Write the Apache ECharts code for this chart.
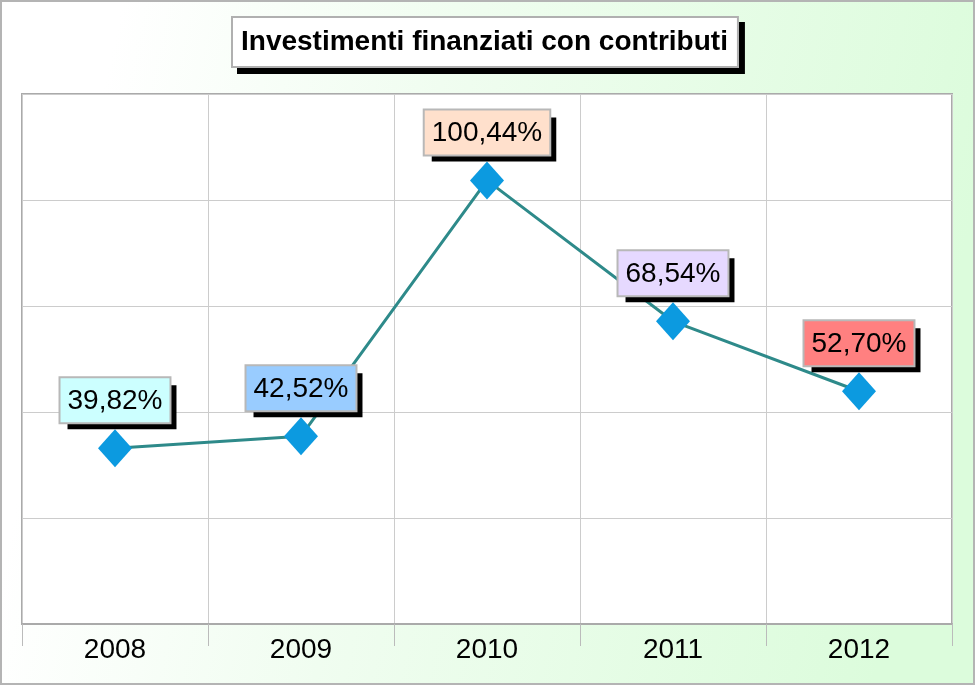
<!DOCTYPE html>
<html>
<head>
<meta charset="utf-8">
<script src="https://cdn.jsdelivr.net/npm/echarts@6/dist/echarts.min.js"></script>
<style>
html,body{margin:0;padding:0;}
#c{width:975px;height:685px;}
</style>
</head>
<body>
<div id="c"></div>
<script>
var titleText = 'Investimenti finanziati con contributi';
var categories = ['2008', '2009', '2010', '2011', '2012'];
var values = [39.82, 42.52, 100.44, 68.54, 52.70];
var labelColors = ['#ccffff', '#99ccff', '#ffe0cc', '#e6d9ff', '#ff8080'];
var yMin = 0, yMax = 120, yInterval = 24;

function fmt(v) { return v.toFixed(2).replace('.', ',') + '%'; }

var FONT = 'Liberation Sans, Arial, sans-serif';
var chart = echarts.init(document.getElementById('c'), null, {renderer: 'canvas'});
var data = values.map(function (v, i) {
  return {
    value: v,
    label: {
      backgroundColor: labelColors[i],
      rich: {
        b: {
          fontFamily: FONT, fontSize: 28, color: '#000000',
          backgroundColor: labelColors[i],
          borderColor: '#b8b8b8', borderWidth: 2,
          padding: [9, 7, 7, 7]
        }
      }
    }
  };
});
chart.setOption({
  animation: false,
  backgroundColor: {
    type: 'linear', x: 0, y: 0, x2: 1, y2: 0.3,
    colorStops: [
      {offset: 0, color: '#ffffff'},
      {offset: 0.12, color: '#ffffff'},
      {offset: 0.45, color: '#f0fdf0'},
      {offset: 1, color: '#dcfcdc'}
    ]
  },
  title: {
    text: '{t|' + titleText + '}',
    left: 233, top: 26,
    padding: 0,
    backgroundColor: '#ffffff',
    borderWidth: 0,
    shadowColor: '#000000',
    shadowBlur: 0,
    shadowOffsetX: 6,
    shadowOffsetY: 6,
    textStyle: {
      rich: {
        t: {
          fontFamily: FONT,
          fontWeight: 'bold',
          fontSize: 28,
          color: '#000000',
          lineHeight: 32,
          backgroundColor: '#ffffff',
          borderColor: '#b0b0b0',
          borderWidth: 2,
          padding: [10, 9, 10, 8]
        }
      }
    }
  },
  graphic: [{
    type: 'rect',
    shape: {x: 1, y: 1, width: 973, height: 683},
    style: {fill: 'none', stroke: '#b4b4b4', lineWidth: 2},
    silent: true, z: 100
  }],
  grid: {
    left: 22, top: 94, right: 23, bottom: 61,
    show: true,
    backgroundColor: '#ffffff',
    borderColor: '#aaaaaa',
    borderWidth: 2
  },
  xAxis: {
    type: 'category',
    data: categories,
    boundaryGap: true,
    axisLine: {show: true, lineStyle: {color: '#aaaaaa', width: 2}},
    axisTick: {show: true, length: 22, lineStyle: {color: '#bbbbbb', width: 1}},
    splitLine: {show: true, lineStyle: {color: '#cccccc', width: 1}},
    axisLabel: {
      margin: 12,
      fontFamily: FONT,
      fontSize: 28,
      color: '#000000'
    }
  },
  yAxis: {
    type: 'value',
    min: yMin, max: yMax, interval: yInterval,
    axisLine: {show: false},
    axisTick: {show: false},
    axisLabel: {show: false},
    splitLine: {show: true, lineStyle: {color: '#cccccc', width: 1}}
  },
  series: [{
    type: 'line',
    data: data,
    symbol: 'diamond',
    symbolSize: [34, 38],
    itemStyle: {color: '#0c9ae0'},
    lineStyle: {color: '#2e8a8a', width: 3},
    z: 3,
    label: {
      show: true,
      position: 'top',
      distance: 7,
      formatter: function (p) { return '{b|' + fmt(p.value) + '}'; },
      padding: 0,
      borderWidth: 0,
      shadowColor: '#000000',
      shadowBlur: 0,
      shadowOffsetX: 7,
      shadowOffsetY: 7
    }
  }]
});
</script>
</body>
</html>
